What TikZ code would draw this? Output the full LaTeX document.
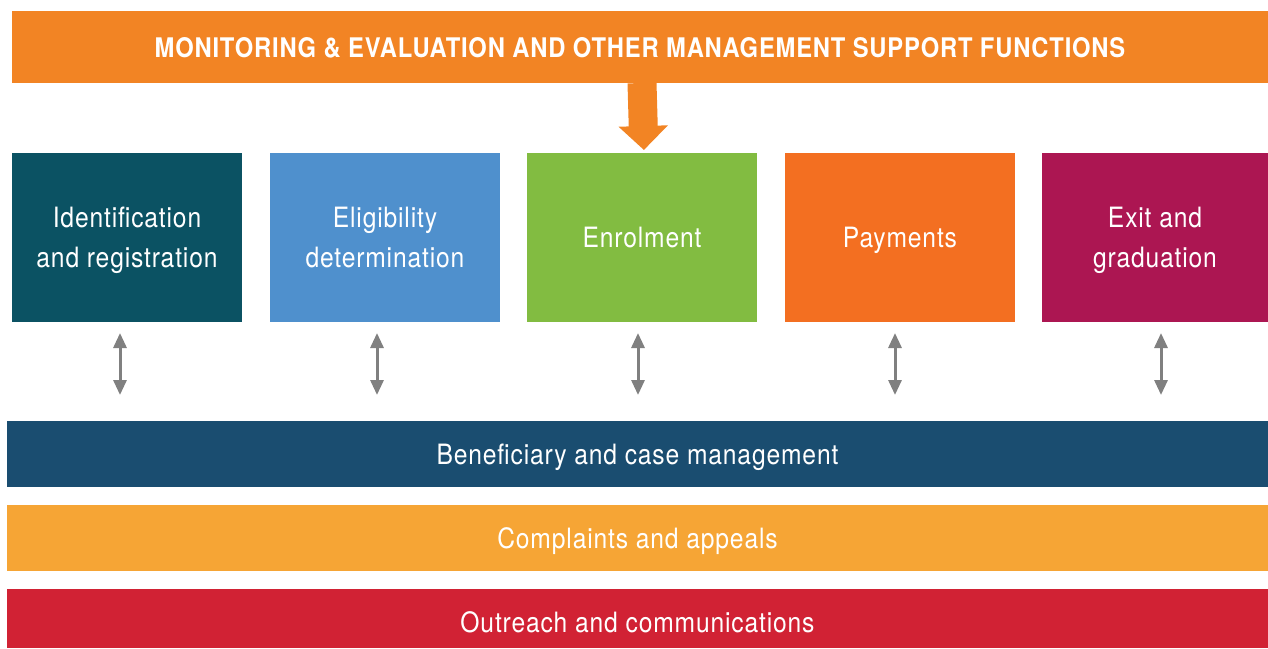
\documentclass[tikz,border=0pt]{standalone}
\usepackage{fontspec}
\setmainfont{TeX Gyre Heros}[FakeStretch=0.88,LetterSpace=3]
\usetikzlibrary{arrows.meta}

\definecolor{meorange}{RGB}{242,132,36}
\definecolor{idteal}{RGB}{11,82,99}
\definecolor{elblue}{RGB}{79,144,205}
\definecolor{engreen}{RGB}{130,188,65}
\definecolor{payorange}{RGB}{243,111,33}
\definecolor{exmagenta}{RGB}{172,22,82}
\definecolor{bmnavy}{RGB}{26,77,112}
\definecolor{cayellow}{RGB}{246,165,53}
\definecolor{ocred}{RGB}{209,34,52}
\definecolor{linkgray}{RGB}{128,128,128}

\begin{document}
\begin{tikzpicture}[x=1pt,y=-1pt]
            \tikzstyle{band}=[anchor=north west,inner sep=0pt,outer sep=0pt,text=white,text height=20pt,text depth=0pt,font=\fontsize{28}{32}\selectfont]
            \tikzstyle{stepbox}=[band,minimum width=230pt,minimum height=169pt,align=center,font=\fontsize{28}{40}\selectfont]
            \tikzstyle{twoline}=[text height=60pt]
            \tikzstyle{link}=[linkgray,line width=3pt,{Triangle[width=13pt,length=15pt]}-{Triangle[width=13pt,length=15pt]},shorten <=11pt,shorten >=26pt]
            \useasboundingbox (0,0) rectangle (1268,648);
            % top band
            \node[band,fill=meorange,minimum width=1256pt,minimum height=72pt,font=\bfseries\fontsize{27}{30}\selectfont] (mande) at (12,11) {MONITORING \& EVALUATION AND OTHER MANAGEMENT SUPPORT FUNCTIONS};
            % process steps
            \node[stepbox,twoline,fill=idteal] (ident) at (12,153) {Identification\\and registration};
            \node[stepbox,twoline,fill=elblue] (elig) at (270,153) {Eligibility\\determination};
            \node[stepbox,fill=engreen] (enrol) at (527,153) {Enrolment};
            \node[stepbox,fill=payorange] (pay) at (785,153) {Payments};
            \node[stepbox,twoline,fill=exmagenta,minimum width=226pt] (exit) at (1042,153) {Exit and\\graduation};
            % cross-cutting bands
            \node[band,fill=bmnavy,minimum width=1261pt,minimum height=66pt] (bcm) at (7,421) {Beneficiary and case management};
            \node[band,fill=cayellow,minimum width=1261pt,minimum height=66pt] (compl) at (7,505) {Complaints and appeals};
            \node[band,fill=ocred,minimum width=1261pt,minimum height=59pt,text height=27pt] (outr) at (7,589) {Outreach and communications};
            % arrows
            \draw[meorange,line width=29pt,-{Triangle[width=48pt,length=24pt]},shorten >=3pt] ([xshift=2pt]mande.south) -- ([xshift=2pt]enrol.north);
            \foreach \stp/\dx in {ident/-7,elig/-8,enrol/-4,pay/-5,exit/6}
                \draw[link] ([xshift=\dx pt]\stp.south) -- ([xshift=\dx pt]\stp.south |- bcm.north);
\end{tikzpicture}
\end{document}
